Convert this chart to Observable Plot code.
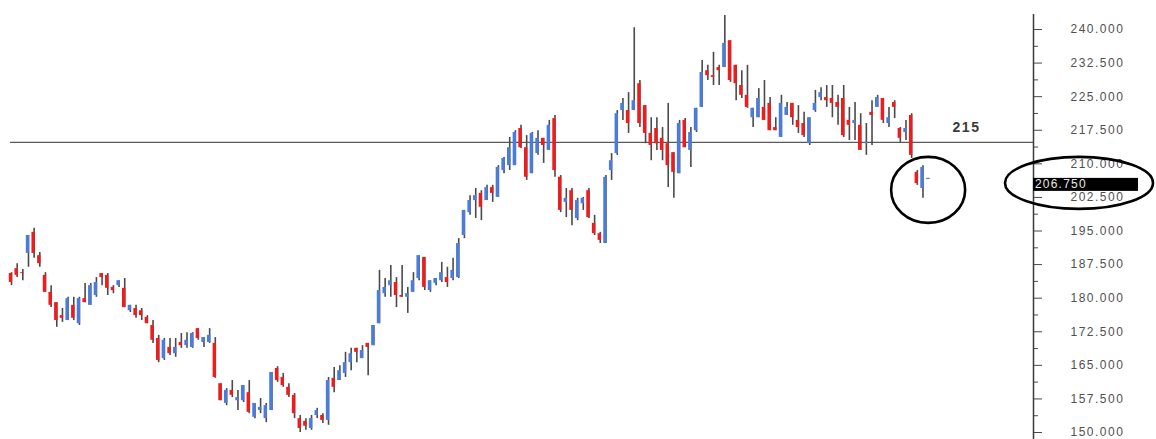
<!DOCTYPE html>
<html><head><meta charset="utf-8">
<script src="https://cdn.jsdelivr.net/npm/d3@7"></script>
<script src="https://cdn.jsdelivr.net/npm/@observablehq/plot@0.6"></script>
<style>
body{margin:0;background:#fff;}
#chart svg{display:block;}
</style></head><body><div id="chart"></div>
<script>
// OHLC values (one bar per session, left to right)
const open = [
185.5,186.6,185.7,190.0,194.7,189.5,185.1,181.3,179.0,176.1,
175.0,178.4,174.3,179.9,178.4,180.6,185.5,185.1,182.4,182.8,
182.2,177.2,177.7,177.2,175.7,173.9,171.0,166.5,169.0,167.6,
170.1,169.4,169.0,173.2,170.1,170.1,169.9,160.9,156.5,159.4,
157.1,157.1,158.9,153.4,154.9,153.1,154.9,164.3,162.3,160.1,
158.3,153.1,152.5,150.9,153.8,153.8,152.7,162.1,161.6,163.2,
165.6,168.8,166.5,169.9,169.4,174.3,181.0,182.8,183.5,180.6,
180.2,181.3,184.4,189.1,181.7,183.3,183.9,184.6,184.4,184.6,
194.0,199.1,201.8,203.4,201.8,204.7,202.5,208.5,209.6,209.6,
217.9,213.6,207.8,212.3,215.7,213.0,220.1,207.0,201.4,204.0,
197.8,201.1,204.0,196.7,194.4,192.2,208.5,212.3,221.9,221.9,
221.9,227.9,223.0,216.8,217.9,215.7,214.5,212.5,207.8,219.7,
213.0,217.4,222.6,230.8,229.7,231.5,231.5,237.5,232.0,227.5,
225.3,220.3,220.3,222.6,223.5,218.1,215.9,220.8,223.5,219.7,
219.0,214.5,221.9,224.8,224.8,224.6,223.7,224.6,219.7,219.0,
218.6,214.5,221.5,222.6,224.6,219.0,223.7,217.9,217.0,220.8,
208.1,204.5,206.5];
const high = [
185.7,187.7,186.4,194.0,195.6,190.2,185.7,182.8,179.0,177.7,
180.2,180.2,180.2,183.3,183.3,184.6,185.5,185.5,182.8,183.9,
184.4,178.4,178.4,177.7,176.1,175.0,171.7,171.0,171.0,171.0,
172.1,172.3,172.3,173.2,171.2,173.2,171.2,160.9,159.8,161.6,
159.4,160.5,161.6,156.5,157.6,156.5,163.4,164.7,163.2,160.9,
158.7,153.8,153.1,153.8,155.4,154.2,162.3,164.5,164.9,167.9,
168.8,168.8,169.4,169.9,173.9,186.2,184.4,187.3,184.6,187.3,
182.4,185.7,189.5,189.1,183.9,184.4,188.0,186.9,188.9,193.3,
199.6,202.9,204.5,204.0,205.2,205.2,209.6,211.4,215.9,217.4,
218.6,216.3,217.0,217.4,215.7,219.7,220.8,207.4,204.5,204.5,
202.3,202.5,204.5,198.5,194.7,207.4,212.3,221.9,224.6,225.9,
240.4,228.6,223.0,220.3,220.3,218.1,223.5,212.5,219.7,220.1,
218.1,222.4,233.1,232.0,234.9,232.0,243.1,237.5,232.0,230.8,
232.0,222.4,226.8,228.6,224.8,220.3,225.3,223.7,223.5,223.0,
221.5,220.3,226.4,227.0,227.5,227.5,225.3,227.5,222.6,223.7,
221.2,219.0,224.1,225.3,224.6,222.6,224.1,218.1,219.7,221.2,
208.5,209.6,206.75];
const low = [
182.8,184.6,183.9,186.9,188.9,186.9,181.3,177.9,173.5,174.6,
175.0,175.0,173.9,179.0,178.4,180.2,182.8,180.6,181.0,182.4,
177.9,176.8,175.5,175.0,174.3,169.9,165.6,166.1,167.2,166.8,
168.8,168.8,168.8,170.6,169.0,169.9,162.1,157.1,156.0,157.8,
154.9,156.7,154.2,153.1,154.2,152.2,154.9,161.2,160.1,157.8,
153.1,150.0,150.5,150.5,153.1,152.0,151.6,158.9,161.6,162.3,
163.8,165.6,166.5,162.7,169.4,174.3,180.2,180.2,177.9,180.2,
176.6,181.3,183.9,181.7,181.3,182.8,183.5,182.4,183.9,184.4,
193.3,198.5,197.8,197.3,201.8,201.4,202.5,207.8,208.5,209.6,
213.4,206.3,207.8,211.9,210.1,213.0,207.0,199.1,198.0,196.2,
197.3,199.6,197.8,194.0,192.2,192.2,206.3,211.9,219.7,216.8,
221.9,218.1,214.5,210.7,213.0,210.7,204.7,202.3,207.8,213.6,
209.2,217.0,222.6,228.6,227.5,227.5,231.5,228.2,224.1,224.6,
222.4,218.1,220.3,219.7,217.4,217.4,215.9,220.8,218.6,216.8,
215.9,214.1,221.5,224.1,222.6,220.3,218.6,215.9,215.2,215.2,
213.0,211.9,214.1,222.6,219.0,218.1,220.1,214.8,215.2,211.2,
205.2,202.3,206.5];
const close = [
183.5,185.1,185.5,194.0,190.0,187.7,181.3,178.4,175.0,175.5,
179.9,175.5,179.9,179.0,182.8,183.5,184.6,182.2,181.7,183.9,
177.9,178.4,176.1,176.1,174.3,170.6,166.1,170.6,167.6,169.0,
169.4,170.6,172.1,171.0,171.2,171.7,162.3,157.1,159.4,158.3,
157.8,160.5,154.5,156.5,155.6,156.0,163.4,161.6,160.5,158.3,
154.2,150.9,151.4,153.1,154.9,152.7,161.6,160.1,163.8,165.6,
167.6,167.9,168.3,169.0,173.9,181.7,182.4,183.9,180.6,180.2,
181.0,183.9,189.5,182.4,183.9,184.4,185.7,183.5,186.2,192.2,
199.6,201.8,202.9,200.3,204.7,203.4,209.2,211.2,213.6,217.0,
213.6,207.0,216.8,215.7,214.1,218.6,208.5,199.6,202.3,199.6,
201.8,202.3,198.0,194.4,192.9,207.0,210.7,221.2,223.5,219.0,
224.1,219.0,216.8,214.1,214.5,213.0,209.6,208.1,219.0,213.6,
217.0,222.4,230.4,229.7,229.3,230.8,236.9,228.6,227.9,225.3,
222.6,222.4,224.6,219.7,217.4,217.4,223.5,222.6,220.3,218.1,
216.3,220.3,223.5,225.9,224.1,223.5,222.6,216.3,218.6,219.7,
213.0,214.8,220.8,224.8,219.7,220.3,222.6,215.7,217.9,211.9,
205.6,209.2,206.75];
const levelLine = [215];
const lastPrice = 206.75;
const yTicks = d3.range(150, 240.001, 7.5);
const yMinorTicks = d3.range(153.75, 240, 7.5);

// layout
const xDomain = [0, 180.7];
const yDomain = [148.44, 243.35];
const upColor = "#4a7ddb", downColor = "#ef1c1c", wickColor = "#4a4a4a";
const font = "'Liberation Sans', Arial, sans-serif";

const bars = open.map((o, i) => ({i, open: o, high: high[i], low: low[i], close: close[i]}));

const plot = Plot.plot({
  width: 1156, height: 439,
  marginLeft: 10, marginRight: 123, marginTop: 14, marginBottom: 0,
  x: {domain: xDomain, axis: null},
  y: {domain: yDomain, axis: null},
  style: {background: "#fff", fontFamily: font},
  marks: [
    Plot.ruleY(levelLine, {stroke: "#5a5a5a", strokeWidth: 1.3, dy: 1}),
    Plot.ruleX(bars, {x: "i", y1: "low", y2: "high", stroke: wickColor, strokeWidth: 1.6, dx: 1}),
    Plot.ruleX(bars, {x: "i", y1: "open", y2: "close", stroke: d => d.close >= d.open ? upColor : downColor, strokeWidth: 3.4}),
    Plot.ruleX([xDomain[1]], {stroke: "#3a3a3a", strokeWidth: 1.5}),
    Plot.axisY({anchor: "right", ticks: yTicks, tickSize: 8, tickPadding: 29, tickFormat: d => d.toFixed(3), fontSize: 12, color: "#4a4a4a", textAnchor: "start"}),
    Plot.axisY({anchor: "right", ticks: yMinorTicks, tickSize: 4, tickFormat: () => "", color: "#4a4a4a"}),
    Plot.text(levelLine, {y: d => d, frameAnchor: "right", dx: -67, dy: -14, text: d => String(d), fontSize: 14, fontWeight: "bold", fill: "#3a3a3a", textAnchor: "middle"})
  ]
});
document.getElementById("chart").appendChild(plot);

const svg = d3.select(plot);
svg.selectAll('[aria-label="y-axis tick label"] text').attr("letter-spacing", "1.5px").attr("fill", "#505050");
svg.selectAll('text').filter(function(){ return this.textContent === "215"; }).attr("letter-spacing", "1.5px");

const xs = plot.scale("x"), ys = plot.scale("y");
const axisX = xs.apply(xDomain[1]);
const lastX = xs.apply(bars.length - 1);
const py = ys.apply(lastPrice);

// current price tag
const tag = svg.append("g");
tag.append("rect").attr("x", axisX).attr("y", py).attr("width", 105).attr("height", 13).attr("fill", "#000");
tag.append("text").attr("x", axisX + 2).attr("y", py + 10.5).text(lastPrice.toFixed(3))
  .attr("text-anchor", "start")
  .attr("fill", "#e8e8e8").attr("font-size", 12).attr("font-family", font).attr("letter-spacing", "1.2px");

// hand-drawn ellipses
svg.append("ellipse").attr("cx", lastX + 1).attr("cy", py + 12).attr("rx", 37).attr("ry", 33)
  .attr("fill", "none").attr("stroke", "#000").attr("stroke-width", 2.6);
svg.append("ellipse").attr("cx", axisX + 46).attr("cy", py + 5).attr("rx", 74).attr("ry", 26)
  .attr("fill", "none").attr("stroke", "#000").attr("stroke-width", 2.6);
</script></body></html>
